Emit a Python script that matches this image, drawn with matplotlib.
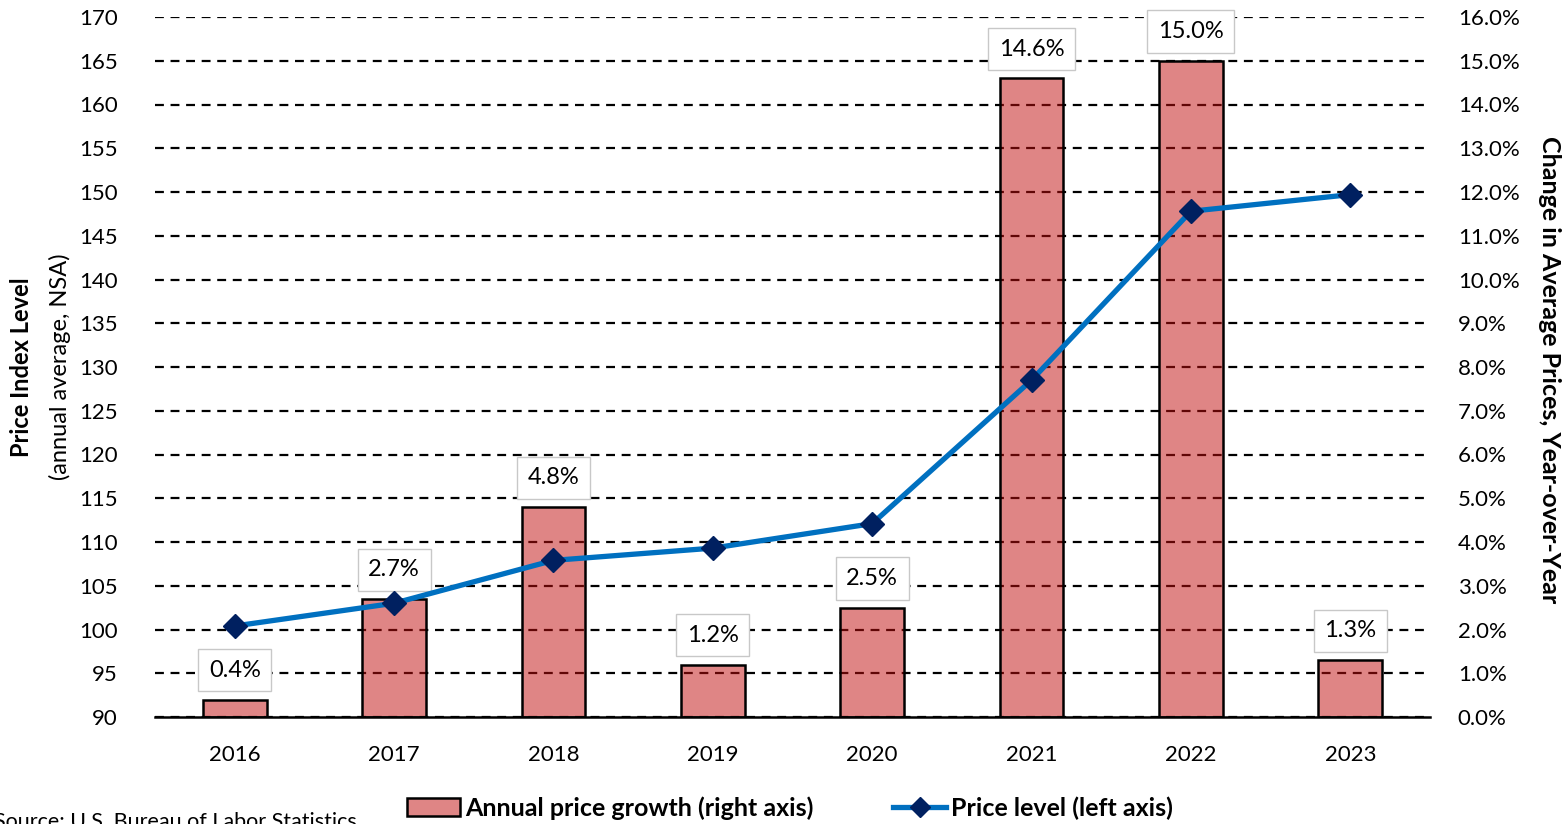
import matplotlib
matplotlib.use('Agg')
import matplotlib.pyplot as plt
import matplotlib.ticker as mticker
from matplotlib.patches import Patch
from matplotlib.lines import Line2D
import numpy as np

years = ['2016', '2017', '2018', '2019', '2020', '2021', '2022', '2023']
growth = [0.4, 2.7, 4.8, 1.2, 2.5, 14.6, 15.0, 1.3]          # % yoy, right axis
price_level = [100.4, 103.0, 107.9, 109.3, 112.1, 128.5, 147.8, 149.7]  # left axis

plt.rcParams['font.family'] = ['Lato', 'DejaVu Sans']

fig = plt.figure(figsize=(15.67, 8.24), dpi=100)
ax = fig.add_axes([155/1567, 1-717/824, 1275/1567, 700/824])
x = np.arange(len(years))

# bars on host axis (percent scale shown on the right)
bar_face = (193/255, 13/255, 13/255, 0.5)
ax.bar(x, growth, width=0.4, color=bar_face, edgecolor='black', linewidth=1.8, zorder=2)
ax.set_ylim(0, 16)
ax.set_xlim(-0.5, 7.5)
ax.yaxis.set_major_locator(mticker.MultipleLocator(1))
ax.yaxis.set_major_formatter(mticker.FuncFormatter(lambda v, p: f'{v:.1f}%'))
ax.grid(axis='y', color='black', linestyle=(0, (4, 3)), linewidth=1.6, zorder=1)
ax.set_axisbelow(True)
for s in ['top', 'left', 'right']:
    ax.spines[s].set_visible(False)
ax.spines['bottom'].set_linewidth(1.8)
ax.set_xticks(x)
ax.set_xticklabels(years)

for xi, g in zip(x, growth):
    ax.annotate(f'{g:.1f}%', (xi, g), xytext=(0, 21), textcoords='offset points',
                ha='center', va='center', fontsize=17, zorder=3,
                bbox=dict(boxstyle='square,pad=0.45', fc='white', ec='#c8c8c8', lw=1))

# price level line on twin axis (left)
ax2 = ax.twinx()
ax2.plot(x, price_level, color='#0070C0', linewidth=3.8, marker='D',
         markersize=12.5, markerfacecolor='#002060', markeredgecolor='#002060', zorder=4)
ax2.set_ylim(90, 170)
ax2.yaxis.tick_left()
ax2.yaxis.set_major_locator(mticker.MultipleLocator(5))
ax2.tick_params(axis='y', length=0, labelsize=16, pad=27)
for s in ['top', 'left', 'right', 'bottom']:
    ax2.spines[s].set_visible(False)

ax.yaxis.tick_right()
ax.tick_params(axis='x', length=0, labelsize=16, pad=20)
ax.tick_params(axis='y', length=0, labelsize=16, pad=20)

# axis titles
fig.text(22/1567, 1-367/824, 'Price Index Level', rotation=90, ha='center', va='center',
         fontsize=17, fontweight='bold')
fig.text(60/1567, 1-367/824, '(annual average, NSA)', rotation=90, ha='center', va='center',
         fontsize=17)
fig.text(1550/1567, 1-370/824, 'Change in Average Prices, Year-over-Year', rotation=-90,
         ha='center', va='center', fontsize=18, fontweight='bold')

handles = [Patch(facecolor=bar_face, edgecolor='black', linewidth=1.8),
           Line2D([0], [0], color='#0070C0', linewidth=3.8, marker='D', markersize=10,
                  markerfacecolor='#002060', markeredgecolor='#002060')]
fig.legend(handles, ['Annual price growth (right axis)', 'Price level (left axis)'],
           loc='center', bbox_to_anchor=(790/1567, 1-808/824), ncol=2, frameon=False,
           prop={'size': 18, 'weight': 'bold'}, handlelength=2.1, columnspacing=3.2,
           handletextpad=0.2)

fig.text(-6/1567, 1-812/824, 'Source: U.S. Bureau of Labor Statistics', ha='left', va='top',
         fontsize=15.5)

fig.savefig('out.png', dpi=100)
